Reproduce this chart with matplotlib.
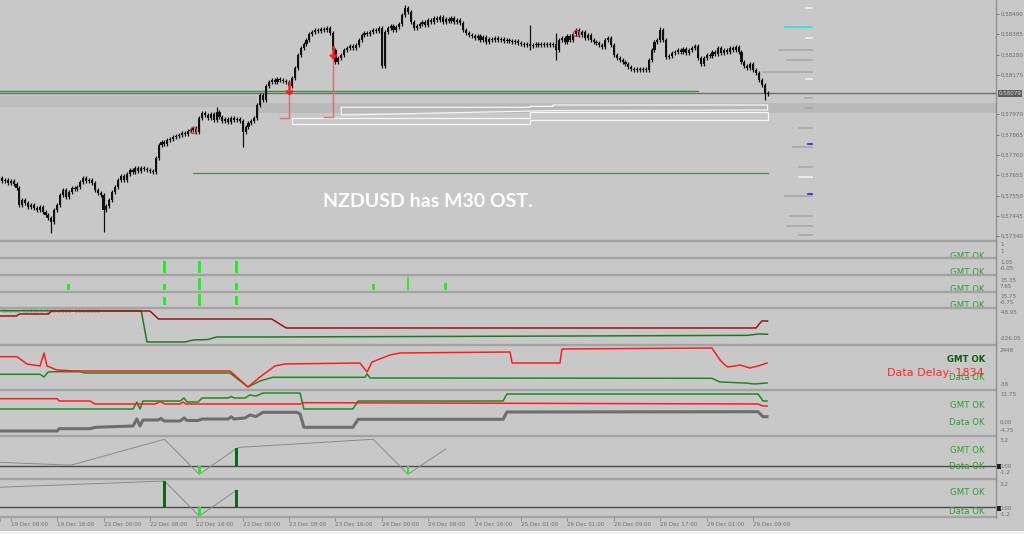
import matplotlib
matplotlib.use('Agg')
import matplotlib.pyplot as plt
from matplotlib.lines import Line2D
from matplotlib.patches import Rectangle
import numpy as np

W, H = 1024, 534
BG = '#c8c8c8'
XR = 996          # right edge of the plot area (px)
XLIM = (0.31, 343.76)

# ---------------- main chart data (NZDUSD M30), prices in points above 0.57000 ----------------
closes_pts = [640,625,630,615,625,610,590,502,528,512,
              492,502,486,476,492,466,450,435,414,476,
              502,554,580,544,569,590,585,595,621,642,
              626,631,616,580,564,554,476,497,528,569,
              595,631,652,631,662,683,673,693,678,693,
              688,683,678,673,745,812,828,817,838,843,
              854,859,864,874,869,885,890,900,880,952,
              978,967,952,973,942,983,957,936,947,931,
              952,942,947,936,880,905,926,936,952,1019,
              1071,1045,1117,1138,1148,1138,1154,1148,1143,1138,
              1117,1159,1210,1278,1314,1335,1355,1386,1397,1407,
              1402,1412,1407,1417,1391,1303,1241,1262,1278,1303,
              1314,1324,1314,1329,1355,1381,1391,1386,1397,1407,
              1402,1417,1221,1397,1417,1428,1407,1422,1438,1484,
              1521,1500,1448,1417,1428,1438,1448,1433,1459,1448,
              1469,1459,1474,1448,1464,1453,1469,1448,1459,1443,
              1407,1391,1381,1376,1365,1376,1355,1371,1345,1360,
              1355,1365,1355,1360,1350,1355,1350,1345,1350,1340,
              1334,1329,1334,1324,1329,1334,1329,1334,1329,1334,
              1329,1334,1303,1355,1365,1345,1376,1355,1386,1407,
              1381,1397,1365,1381,1355,1345,1340,1329,1319,1355,
              1365,1329,1278,1262,1252,1241,1231,1216,1205,1200,
              1205,1200,1205,1200,1252,1303,1345,1355,1407,1355,
              1267,1272,1288,1293,1303,1293,1309,1288,1303,1314,
              1324,1262,1231,1262,1278,1272,1293,1283,1314,1288,
              1303,1293,1314,1303,1319,1293,1241,1221,1210,1231,
              1200,1184,1148,1122,1076,1079]
first_open_pts = 635
spike_high = {75: 1009, 140: 1536, 183: 1433, 192: 1391, 228: 1422}
spike_low = {18: 357, 36: 363, 84: 802, 183: 1303, 192: 1252, 264: 1045}

price_ticks = [0.58490, 0.58385, 0.58280, 0.58175, 0.57970, 0.57865,
               0.57760, 0.57655, 0.57550, 0.57445, 0.57340]
bid_label = '0.58079'

time_idx = [4, 20, 36, 52, 68, 84, 100, 116, 132, 148, 164, 180, 196, 212, 228, 244, 260]
time_lbl = ['19 Dec 08:00', '19 Dec 16:00', '22 Dec 00:00', '22 Dec 08:00', '22 Dec 16:00',
            '23 Dec 00:00', '23 Dec 08:00', '23 Dec 16:00', '24 Dec 00:00', '24 Dec 08:00',
            '24 Dec 16:00', '25 Dec 01:00', '26 Dec 01:00', '26 Dec 09:00', '26 Dec 17:00',
            '29 Dec 01:00', '29 Dec 09:00']

# signals / objects in main chart (bar index, price points)
arrow_idx = [100, 115]
arrow_pts = [1107, 1293]
stop_pts = [952, 957]
stop_foot_idx = [97, 112]
circle_idx = [67, 199]
circle_pts = [890, 1391]
green_level_pts = 1091
green_level_span = (0, 241)
green_low_pts = 668
green_low_span = (67, 265)

# right-side level marks: (price points, start idx, colour)
level_marks = [(1521, 278.2, '#efefef'), (1424, 271.0, '#30e0e0'), (1366, 278.2, '#efefef'),
               (1303, 268.9, '#a8a8a8'), (1252, 271.7, '#a8a8a8'),
               (1190, 263.4, '#a8a8a8'), (1154, 278.2, '#efefef'),
               (1055, 277.9, '#a8a8a8'), (1004, 277.9, '#a8a8a8'),
               (900, 275.8, '#a8a8a8'), (818, 278.9, '#2020ff'), (802, 273.8, '#a8a8a8'),
               (699, 275.8, '#a8a8a8'), (647, 275.8, '#f4f4f4'), (559, 278.9, '#2020ff'),
               (549, 271.0, '#a8a8a8'), (445, 272.7, '#a8a8a8'), (394, 271.7, '#a8a8a8'),
               (347, 275.8, '#a8a8a8')]
level_end_idx = 280.3

# white outline shapes (idx, pts)
shape_u_idx = [118, 183, 183, 191, 191, 265, 265, 191, 118, 118]
shape_u_pts = [1007, 1007, 1012, 1012, 1019, 1019, 993, 990, 967, 1007]
shape_l_idx = [101, 183, 183, 265, 265, 183, 183, 101, 101]
shape_l_pts = [952, 952, 983, 983, 942, 942, 921, 921, 952]

# ---------------- indicator data ----------------
p3_idx = [57, 69, 82]; p3_bot = [0.06, 0.06, 0.06]; p3_top = [0.82, 0.82, 0.82]
p4_idx = [24, 57, 69, 82, 129, 141, 154]
p4_bot = [0.03] * 7
p4_top = [0.43, 0.43, 0.83, 0.50, 0.43, 0.90, 0.50]
p5_idx = [57, 69, 82]; p5_bot = [0.17, 0.10, 0.17]; p5_top = [0.70, 0.90, 0.77]

p6_red_x = [0, 6, 7, 17, 18, 52, 55, 94, 99, 261, 263, 265]
p6_red_v = [-77.5, -77.5, -66.1, -66.1, -48.95, -48.95, -94.6, -94.6, -146.0, -146.0, -106.1, -106.1]
p6_grn_x = [0, 49, 51, 64, 67, 72, 75, 91, 200, 258, 262, 265]
p6_grn_v = [-47.2, -47.2, -226, -226, -214.6, -212, -197.4, -197.4, -191.7, -188, -180.3, -182]

p7_red_x = [0, 6.2, 9.6, 14.1, 15.5, 16.5, 20, 26, 79.6, 85.8, 90, 95.1, 98.6, 124.4, 126.9,
            128.6, 134.8, 138.2, 176.2, 176.9, 193.4, 194.1, 245.8, 248.6, 250.3, 251.3,
            253.8, 255.5, 258.9, 261.7, 264.8]
p7_red_v = [1860, 1860, 1418, 1297, 2084, 1297, 1054, 994, 994, 24, 630, 1297, 1418, 1478, 933,
            1539, 1963, 2084, 2145, 1478, 1478, 2327, 2387, 1660, 1357, 1236,
            1297, 1357, 1175, 1297, 1478]
p7_grn_x = [0, 14.1, 15.5, 16.9, 19.3, 27.9, 29.6, 79.6, 85.8, 90, 94.4, 126.2, 126.9, 127.9,
            245.8, 248.6, 257.2, 260.6, 264.8]
p7_grn_v = [794, 794, 630, 933, 951, 951, 872, 872, 24, 388, 612, 612, 812, 570,
            551, 327, 266, 206, 266]

p8_red_x = [0, 20, 20.7, 31.3, 33.1, 53.8, 55.5, 57.2, 62.4, 63.4, 64.4, 103.8, 104.8, 261.7, 263.4, 264.8]
p8_red_v = [10.25, 10.25, 9.24, 9.24, 7.92, 7.92, 9.02, 7.92, 7.92, 8.8, 7.92, 7.92, 8.5, 7.92, 7.04, 7.04]
p8_grn_x = [0, 46.2, 47.5, 48.6, 49.6, 62.4, 63.8, 64.8, 68.6, 70, 79, 80, 81, 84.8, 86.5, 88.6,
            91, 103.8, 105.1, 122, 123.8, 173.8, 175.1, 261.7, 263.4, 264.8]
p8_grn_v = [5.72, 5.72, 8.8, 5.72, 9.24, 9.24, 10.56, 8.8, 8.8, 10.56, 10.56, 11.22, 10.56, 10.56,
            11.88, 11.44, 12.76, 12.76, 5.72, 5.72, 9.24, 9.24, 12.32, 12.32, 9.24, 9.24]
p8_gry_x = [0, 20, 20.7, 31.3, 33.1, 46.2, 47.5, 48.6, 49.6, 54.8, 55.8, 56.9, 62.4, 63.8, 64.8,
            68.6, 70, 79, 80, 81, 84.8, 86.5, 88.6, 91, 102.7, 103.8, 105.1, 122, 123.8, 173.8,
            175.1, 261.7, 263.4, 264.8]
p8_gry_v = [-3.96, -3.96, -2.95, -2.95, -2.33, -1.76, 1.32, -1.76, 0.88, 0.88, 1.54, 0.44, 0.44,
            1.76, 0.66, 0.66, 1.32, 1.32, 2.33, 1.32, 1.76, 3.08, 2.42, 4.27, 4.27, 3.52, -2.33,
            -2.33, 1.19, 1.19, 4.4, 4.53, 2.33, 2.33]

p9_zz_x = [0, 23, 25, 57, 69, 82, 83, 129, 141, 154]
p9_zz_v = [0.47, 0.13, 0.13, 3.42, -1.06, 2.27, 2.39, 3.42, -1.06, 2.18]
p9_dark_idx = [82]; p9_dark_v = [2.27]
p9_lime_idx = [69, 141]; p9_lime_v = [-1.06, -1.06]

p10_zz_x = [0, 57, 69, 82]
p10_zz_v = [2.87, 3.78, -1.31, 2.47]
p10_dark_idx = [57, 82]; p10_dark_v = [3.78, 2.47]
p10_lime_idx = [69]; p10_lime_v = [-1.31]

# ---------------- helpers ----------------
fig = plt.figure(figsize=(W / 100, H / 100), dpi=100)
fig.patch.set_facecolor(BG)


def fy(y):
    return 1 - y / H


def lim_from(top, bot, y1, v1, y2, v2):
    s = (v2 - v1) / (y2 - y1)
    return (v1 + (bot - y1) * s, v1 + (top - y1) * s)


def panel(top, bot, ylim):
    ax = fig.add_axes([0, 1 - bot / H, XR / W, (bot - top) / H])
    ax.set_facecolor(BG)
    ax.set_xlim(XLIM)
    ax.set_ylim(ylim)
    for s in ax.spines.values():
        s.set_visible(False)
    ax.set_xticks([])
    ax.set_yticks([])
    return ax


LBL = '#6b6b6b'
GOK = '#2f9f2f'


def rlabel(y, s):
    fig.text(1000 / W, fy(y), s, fontsize=4.1, color=LBL, va='center', ha='left')


def status(ax, y, s, color=GOK, weight='normal', size=6.2):
    ax.text(985 / W, fy(y), s, transform=fig.transFigure, fontsize=size, color=color,
            ha='right', va='center', fontweight=weight, clip_on=True, zorder=5)


# ---------------- main chart ----------------
P = lambda v: 0.57 + np.asarray(v, dtype=float) / 1e5
ax = panel(0, 240, (0.57321, 0.58562))

# shaded bands
ax.add_patch(Rectangle((XLIM[0], P(1009)), 89 - XLIM[0], P(1066) - P(1009), color='#bdbdbd', lw=0, zorder=0))
ax.add_patch(Rectangle((89, P(978)), XLIM[1] - 89, P(1029) - P(978), color='#b9b9b9', lw=0, zorder=0))

closes = P(closes_pts)
opens = np.concatenate([[P(first_open_pts)], closes[:-1]])
n = len(closes)
idx = np.arange(n)
wick = P(11) - P(0)
highs = np.maximum(opens, closes) + wick
lows = np.minimum(opens, closes) - wick
for k, v in spike_high.items():
    highs[k] = P(v)
for k, v in spike_low.items():
    lows[k] = P(v)

ax.vlines(idx, lows, highs, color='#111111', lw=0.9, zorder=3)
body_lo = np.minimum(opens, closes)
body_h = np.maximum(np.abs(closes - opens), P(4) - P(0))
ax.bar(idx, body_h, bottom=body_lo, width=0.75, color='#111111', lw=0, zorder=3)

# horizontal levels
ax.plot(green_level_span, [P(green_level_pts)] * 2, color='#3f8f3f', lw=1.0, zorder=2)
ax.axhline(closes[-1], color='#6e6e6e', lw=1.0, zorder=2)
ax.plot(green_low_span, [P(green_low_pts)] * 2, color='#4a8a4a', lw=0.9, zorder=2)

# white shapes
ax.plot(shape_u_idx, P(shape_u_pts), color='#f6f6f6', lw=0.9, zorder=2)
ax.plot(shape_l_idx, P(shape_l_pts), color='#f6f6f6', lw=0.9, zorder=2)

# red stop lines and arrows
for a_i, a_p, s_p, f_i in zip(arrow_idx, arrow_pts, stop_pts, stop_foot_idx):
    ax.plot([a_i, a_i, f_i], [P(a_p), P(s_p), P(s_p)], color='#e86a6a', lw=1.0, zorder=4)
ax.plot(arrow_idx, P(arrow_pts), ls='none', marker=r'$\downarrow$', ms=9, color='#ff1a1a',
        markeredgewidth=0.6, zorder=5)
ax.plot(circle_idx, P(circle_pts), ls='none', marker='o', ms=4.5, mfc='none', mec='#d04040', mew=0.8, zorder=5)

# right-side level marks
for pts, start, col in level_marks:
    ax.plot([start, level_end_idx], [P(pts)] * 2, color=col, lw=1.2, zorder=2)

ax.text(0.43, 0.16, 'NZDUSD has M30 OST.', transform=ax.transAxes, fontsize=14,
        fontfamily='Lato', fontweight='bold', color='white', ha='center', va='center', zorder=6)

ax.yaxis.tick_right()
ax.set_yticks(price_ticks)
ax.set_yticklabels(['%.5f' % v for v in price_ticks])
ax.tick_params(axis='y', direction='out', length=2, width=0.6, colors=LBL, labelsize=4.1, pad=1.3)
ax.text(1.0025, closes[-1], bid_label, transform=ax.get_yaxis_transform(), fontsize=4.1,
        color='#d8d8d8', va='center', ha='left', zorder=6,
        bbox=dict(boxstyle='square,pad=0.15', fc='#5e5e5e', ec='none'))

# ---------------- bar panels ----------------
lime = '#22ee22'
for (top, bot, bi, bb, bt) in [(258.5, 274, p3_idx, p3_bot, p3_top),
                               (275.5, 290.5, p4_idx, p4_bot, p4_top),
                               (292.5, 307.5, p5_idx, p5_bot, p5_top)]:
    a = panel(top, bot, (0, 1))
    a.bar(bi, np.array(bt) - np.array(bb), bottom=bb, width=1.0, color=lime, lw=0)
p2 = panel(242, 257, (0, 1))

# status texts of the small panels (fig.axes order: main, p3, p4, p5, p2)
status(fig.axes[4], 256.0, 'GMT OK')
status(fig.axes[1], 272.8, 'GMT OK')
status(fig.axes[2], 289.5, 'GMT OK')
status(fig.axes[3], 306.0, 'GMT OK')

# ---------------- panel 6 ----------------
a6 = panel(309, 344.5, lim_from(309, 344.5, 311, -48.95, 342, -226.05))
a6.text(1, -50.5, 'Shorts: 1295h | -180.0000 -116.0000', fontsize=3.8, color='#8a8a8a',
        va='center', ha='left', zorder=1)
a6.plot(p6_red_x, p6_red_v, color='#9a1414', lw=1.1, zorder=3)
a6.plot(p6_grn_x, p6_grn_v, color='#1f7a1f', lw=1.1, zorder=2)

# ---------------- panel 7 ----------------
a7 = panel(346.5, 389, lim_from(346.5, 389, 347, 2448, 388, -38))
a7.plot(p7_grn_x, p7_grn_v, color='#1f8a1f', lw=1.1, zorder=2)
a7.plot(p7_red_x, p7_red_v, color='#ff1c1c', lw=1.1, zorder=3)
status(a7, 360.0, 'GMT OK', color='#0b5f0b', weight='bold')
status(a7, 377.0, 'Data OK')
a7.text(984 / W, fy(372.5), 'Data Delay: 1834', transform=fig.transFigure, fontsize=8,
        color='#ff2a2a', ha='right', va='center', zorder=6)

# ---------------- panel 8 ----------------
a8 = panel(391, 435, lim_from(391, 435, 422, 0.0, 395.3, 11.75))
a8.plot(p8_gry_x, p8_gry_v, color='#6e6e6e', lw=2.2, zorder=2)
a8.plot(p8_grn_x, p8_grn_v, color='#1f8a1f', lw=1.1, zorder=3)
a8.plot(p8_red_x, p8_red_v, color='#ff1c1c', lw=1.1, zorder=3)
status(a8, 405.3, 'GMT OK')
status(a8, 422.3, 'Data OK')

# ---------------- panel 9 ----------------
a9 = panel(437, 478, lim_from(437, 478, 466, 0.0, 441, 3.2))
a9.axhline(0, color='#4a4a4a', lw=1.0, zorder=1)
a9.plot(p9_zz_x, p9_zz_v, color='#8a8a8a', lw=0.7, zorder=2)
a9.bar(p9_dark_idx, p9_dark_v, width=1.0, color='#0b6a0b', lw=0, zorder=3)
a9.bar(p9_lime_idx, p9_lime_v, width=1.0, color=lime, lw=0, zorder=3)
status(a9, 450.7, 'GMT OK')
status(a9, 466.7, 'Data OK')

# ---------------- panel 10 ----------------
a10 = panel(479.5, 517, lim_from(479.5, 517, 507, 0.0, 485, 3.2))
a10.axhline(0, color='#4a4a4a', lw=1.0, zorder=1)
a10.plot(p10_zz_x, p10_zz_v, color='#8a8a8a', lw=0.7, zorder=2)
a10.bar(p10_dark_idx, p10_dark_v, width=1.0, color='#0b6a0b', lw=0, zorder=3)
a10.bar(p10_lime_idx, p10_lime_v, width=1.0, color=lime, lw=0, zorder=3)
status(a10, 492.7, 'GMT OK')
status(a10, 511.0, 'Data OK')

# time axis
a10.set_xticks(time_idx)
a10.set_xticklabels(time_lbl)
a10.tick_params(axis='x', direction='out', length=3, width=0.6, colors='#8a8a8a',
                labelsize=4.1, pad=0.6, labelcolor='#707070')
for t in a10.get_xticklabels():
    t.set_ha('left')
a10.text(-12, -0.03, '19 Dec 00:00', transform=a10.get_xaxis_transform(), fontsize=4.1,
         color='#707070', ha='left', va='top', clip_on=False)

# ---------------- right labels of sub panels ----------------
for y, s in [(245, '1'), (251.5, '1'), (262, '1.05'), (268, '-0.05'), (281, '15.35'),
             (287, '7.65'), (297, '15.75'), (303, '-0.75'), (312, '-48.95'), (339, '-226.05'),
             (350, '2448'), (385, '-38'), (395, '11.75'), (422, '0.00'), (431, '-4.75'),
             (441, '3.2'), (466, '0.00'), (472, '-1.2'), (485, '3.2'), (508, '0.00'), (514, '-1.2')]:
    rlabel(y, s)
for yb in (468.5, 510.5):
    fig.patches.append(Rectangle((997 / W, fy(yb)), 4 / W, 5 / H, transform=fig.transFigure,
                                 color='#1a1a1a', lw=0))

# ---------------- separators, right axis line, bottom strip ----------------
for y in [241, 257.5, 274.8, 291.6, 308.2, 345.4, 389.8, 435.8, 478.5, 517.3]:
    fig.add_artist(Line2D([0, XR / W], [fy(y)] * 2, color='#a3a3a3', lw=1.7, zorder=10))
fig.add_artist(Line2D([XR / W] * 2, [fy(0), fy(517.5)], color='#8e8e8e', lw=0.9, zorder=10))
fig.add_artist(Line2D([0, 1], [fy(530.5)] * 2, color='#a8a8a8', lw=0.8, zorder=10))
fig.patches.append(Rectangle((0, 0), 1, 3 / H, transform=fig.transFigure, color='#f2f2f2', lw=0, zorder=10))

fig.savefig('out.png', dpi=100, facecolor=BG)
